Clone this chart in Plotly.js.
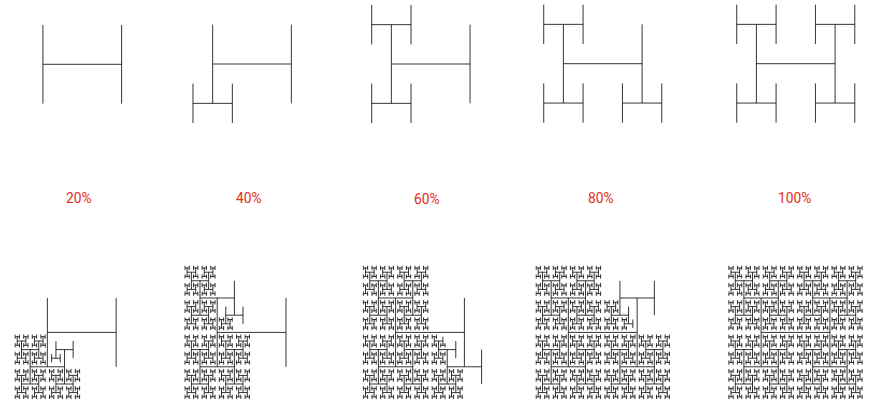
<!DOCTYPE html>
<html><head><meta charset="utf-8">
<script src="https://cdn.plot.ly/plotly-3.0.1.min.js"></script>
<style>html,body{margin:0;padding:0;background:#fff}#c{width:870px;height:402px}</style>
</head><body><div id="c"></div>
<script>
// Values: how many H shapes of the tree each panel has drawn so far.
var topCounts = [1, 2, 3, 4, 5];
var bottomCounts = [67, 135, 203, 271, 341];
var topDepth = 2;
var bottomDepth = 5;
var labels = ["20%", "40%", "60%", "80%", "100%"];
var labelX = [79.2, 249, 427.3, 601, 794];
var labelY = [198, 198, 199, 198, 198];
// Order in which the four branches of an H are visited: lower left, upper left, lower right, upper right.
var branchX = [-1, -1, 1, 1];
var branchY = [-1, 1, -1, 1];

// Layout of the panels, in page pixels.
var W = 870, H = 402;
var topCentreX = [82.25, 252, 430.7, 602.75, 795.75];
var topCentreY = [64.3, 64, 64, 63.7, 63.7];
var topHalf = 39.35;
var bottomCentreX = [81.75, 251.6, 430, 602.75, 795.5];
var bottomCentreY = [332.4, 332.4, 332.4, 332.4, 332.4];
var bottomHalf = 34.4;

// The figure is a strict H-tree, so the shapes are walked from its structure, in drawing order.
function walk(depth, limit) {
  var xs = [], ys = [], n = 0;
  function visit(cx, cy, h, d) {
    if (d === 0 || n >= limit) return;
    n++;
    xs.push(cx - h, cx + h, null, cx - h, cx - h, null, cx + h, cx + h, null);
    ys.push(cy, cy, null, cy - h, cy + h, null, cy - h, cy + h, null);
    for (var i = 0; i < 4; i++) visit(cx + branchX[i] * h, cy + branchY[i] * h, h / 2, d - 1);
  }
  visit(0, 0, 1, depth);
  return {x: xs, y: ys};
}

var data = [], layout = {
  width: W, height: H, margin: {l: 0, r: 0, t: 0, b: 0}, showlegend: false,
  paper_bgcolor: "#fff", plot_bgcolor: "rgba(0,0,0,0)", annotations: []
};
function addPanel(idx, count, depth, px, py, half, ext) {
  var t = walk(depth, count), s = idx === 1 ? "" : String(idx);
  data.push({type: "scatter", mode: "lines", x: t.x, y: t.y, xaxis: "x" + s, yaxis: "y" + s,
    hoverinfo: "skip", line: {color: "#111", width: 0.85, simplify: false}, connectgaps: false});
  var hide = {visible: false, fixedrange: true, range: [-ext, ext], autorange: false};
  layout["xaxis" + s] = Object.assign({domain: [(px - ext * half) / W, (px + ext * half) / W], anchor: "y" + s}, hide);
  layout["yaxis" + s] = Object.assign({domain: [1 - (py + ext * half) / H, 1 - (py - ext * half) / H], anchor: "x" + s}, hide);
}
topCounts.forEach(function (c, i) { addPanel(i + 1, c, topDepth, topCentreX[i], topCentreY[i], topHalf, 1.6); });
bottomCounts.forEach(function (c, i) { addPanel(i + 6, c, bottomDepth, bottomCentreX[i], bottomCentreY[i], bottomHalf, 1.96); });
labels.forEach(function (t, i) {
  layout.annotations.push({text: t, xref: "paper", yref: "paper", x: labelX[i] / W, y: 1 - labelY[i] / H,
    xanchor: "center", yanchor: "middle", showarrow: false,
    font: {family: "Roboto, sans-serif", size: 13.8, color: "#e42c18"}});
});
Plotly.newPlot("c", data, layout, {staticPlot: true, displayModeBar: false});
</script></body></html>
